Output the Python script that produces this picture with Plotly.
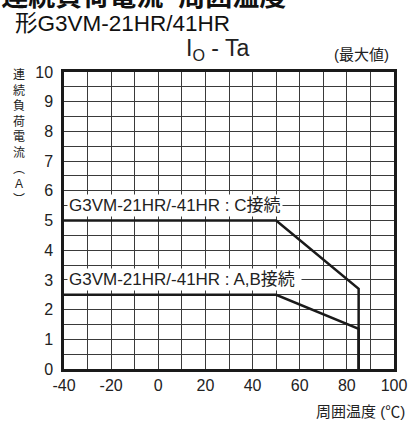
import plotly.graph_objects as go

# Data
temp_c = [-40, 50, 85, 85]
current_c = [5, 5, 2.7, 0]
temp_ab = [-40, 50, 85, 85]
current_ab = [2.5, 2.5, 1.35, 0]
label_c = "G3VM-21HR/-41HR : C接続"
label_ab = "G3VM-21HR/-41HR : A,B接続 "
x_ticks = [-40, -20, 0, 20, 40, 60, 80, 100]
y_ticks = list(range(0, 11))

FONT = "Liberation Sans, Arial, Noto Sans CJK JP, sans-serif"
TXT = "#222222"

# page geometry (target pixel positions in a 409x423 picture)
W, H = 419, 423
k = W / 409
L, R, T, B = 62, 392, 72, 369
def px(xp):
    return (xp - L) / (R - L)
def py(yp):
    return (B - yp) / (B - T)

fig = go.Figure()
fig.add_trace(go.Scatter(x=temp_c, y=current_c, mode="lines",
                         line=dict(color="#1a1a1a", width=2.5), showlegend=False))
fig.add_trace(go.Scatter(x=temp_ab, y=current_ab, mode="lines",
                         line=dict(color="#1a1a1a", width=2.5), showlegend=False))

# left-anchored line labels
for txt, yv in [(label_c, 5.5), (label_ab, 3.0)]:
    fig.add_annotation(x=-40, y=yv, xref="x", yref="y", text=txt, showarrow=False,
                       xanchor="left", yanchor="middle", xshift=3,
                       bgcolor="white", borderpad=1,
                       font=dict(family=FONT, size=17, color=TXT))

# titles
fig.add_annotation(x=px(-19), y=py(-3.5), xref="paper", yref="paper", xanchor="left",
                   yanchor="middle", text="<b>●連続負荷電流–周囲温度</b>", showarrow=False,
                   font=dict(family=FONT, size=27, color="#111"))
fig.add_annotation(x=px(11), y=py(23.5), xref="paper", yref="paper", xanchor="left",
                   yanchor="middle", text="形G3VM-21HR/41HR", showarrow=False,
                   font=dict(family=FONT, size=22.5, color="#111"))
fig.add_annotation(x=px(215), y=py(50), xref="paper", yref="paper",
                   xanchor="center", yanchor="middle", text="I<sub>O</sub> - Ta",
                   showarrow=False, font=dict(family=FONT, size=23, color=TXT))
fig.add_annotation(x=px(389), y=py(54), xref="paper", yref="paper",
                   xanchor="right", yanchor="middle", text="(最大値)",
                   showarrow=False, font=dict(family=FONT, size=15, color=TXT))
fig.add_annotation(x=px(17), y=py(66), xref="paper", yref="paper",
                   xanchor="center", yanchor="top",
                   text="連<br>続<br>負<br>荷<br>電<br>流<br>︵<br>A<br>︶",
                   showarrow=False, font=dict(family=FONT, size=12, color=TXT))
fig.add_annotation(x=px(405), y=py(411), xref="paper", yref="paper",
                   xanchor="right", yanchor="middle", text="周囲温度 (℃)",
                   showarrow=False, font=dict(family=FONT, size=15, color=TXT))

grid = "#3a3a3a"
fig.update_xaxes(range=[-40, 100], tickvals=x_ticks, ticktext=[str(v) for v in x_ticks],
                 showgrid=True, gridcolor=grid, gridwidth=1,
                 minor=dict(dtick=10, tick0=-40, showgrid=True, gridcolor=grid, gridwidth=1),
                 showline=True, linecolor="#1a1a1a", linewidth=2.5, mirror=True,
                 zeroline=False, ticks="", ticklen=0,
                 tickfont=dict(family=FONT, size=16, color=TXT))
fig.update_yaxes(range=[0, 10], tickvals=y_ticks, ticktext=[str(v) for v in y_ticks],
                 showgrid=True, gridcolor=grid, gridwidth=1,
                 minor=dict(dtick=0.5, tick0=0, showgrid=True, gridcolor=grid, gridwidth=1),
                 showline=True, linecolor="#1a1a1a", linewidth=2.5, mirror=True,
                 zeroline=False, ticks="", ticklen=0, ticklabelstandoff=5,
                 tickfont=dict(family=FONT, size=16, color=TXT))

fig.update_layout(width=W, height=H, autosize=False,
                  margin=dict(l=L * k, r=W - R * k, t=T, b=H - B),
                  plot_bgcolor="white", paper_bgcolor="white", showlegend=False)

fig.write_html("out.html",
               config=dict(displayModeBar=False, responsive=False),
               post_script="document.body.style.margin='0';document.body.style.overflow='hidden';")
